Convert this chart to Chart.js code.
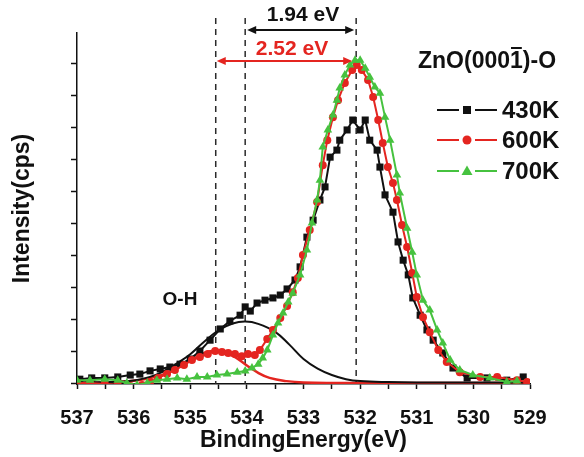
<!DOCTYPE html>
<html>
<head>
<meta charset="utf-8">
<script src="https://cdn.jsdelivr.net/npm/chart.js@4"></script>
<style>
html,body{margin:0;padding:0;background:#fff;}
</style>
</head>
<body>
<canvas id="xps" width="584" height="457"></canvas>
<script>
// binding energy (eV) / intensity (a.u., 1 unit = 1 y tick)
const e430 = [536.95,536.74,536.51,536.28,536.06,535.89,535.71,535.53,535.36,535.18,535.00,534.83,534.65,534.47,534.30,534.12,534.03,533.94,533.82,533.68,533.54,533.41,533.29,533.15,533.06,532.94,532.83,532.71,532.62,532.53,532.41,532.36,532.23,532.13,532.00,531.91,531.83,531.70,531.65,531.56,531.42,531.33,531.24,531.15,531.07,530.94,530.82,530.71,530.54,530.36,530.11,529.76,529.41,529.12];
const i430 = [0.12,0.16,0.16,0.19,0.25,0.28,0.38,0.44,0.50,0.59,0.75,1.00,1.34,1.69,1.94,2.12,2.38,2.25,2.50,2.59,2.66,2.75,2.94,3.22,3.63,4.56,5.09,5.72,6.13,7.06,7.28,7.59,7.91,8.22,7.91,8.22,7.59,7.28,6.75,5.88,5.34,4.41,3.84,3.38,2.66,2.12,1.66,1.34,0.94,0.47,0.16,0.16,0.09,0.19];

const e600 = [537.00,536.77,536.51,536.28,536.06,535.85,535.71,535.57,535.41,535.27,535.11,534.97,534.83,534.69,534.56,534.44,534.33,534.21,534.09,533.98,533.86,533.77,533.64,533.54,533.41,533.29,533.19,533.10,533.01,532.89,532.76,532.66,532.58,532.48,532.39,532.27,532.14,532.06,531.97,531.86,531.77,531.68,531.60,531.51,531.42,531.35,531.26,531.17,531.08,531.00,530.89,530.77,530.62,530.47,530.24,529.88,529.58,529.23,529.05];
const i600 = [0.00,0.00,-0.03,-0.06,-0.09,-0.06,0.03,0.16,0.28,0.41,0.56,0.72,0.81,0.91,1.00,0.97,0.94,0.91,0.84,0.91,0.88,1.03,1.38,1.66,2.03,2.41,2.84,3.28,4.00,4.78,5.66,6.81,7.59,8.31,8.84,9.38,9.78,9.94,9.78,9.47,8.94,8.22,7.50,6.75,6.25,5.72,4.94,4.25,3.44,2.69,2.06,1.59,1.03,0.66,0.34,0.19,0.19,0.09,0.03];

const e700 = [537.00,536.77,536.51,536.28,536.12,535.94,535.76,535.59,535.41,535.23,535.06,534.88,534.70,534.53,534.35,534.17,534.03,533.91,533.80,533.72,533.64,533.54,533.45,533.36,533.27,533.19,533.06,532.94,532.85,532.76,532.71,532.66,532.57,532.48,532.41,532.36,532.27,532.18,532.09,532.00,531.91,531.83,531.74,531.65,531.56,531.47,531.35,531.30,531.17,531.08,531.00,530.89,530.77,530.64,530.54,530.41,530.24,530.01,529.71,529.41,529.23];
const i700 = [0.09,0.09,0.12,0.09,0.00,-0.06,0.00,0.09,0.12,0.16,0.12,0.19,0.19,0.25,0.28,0.34,0.38,0.47,0.59,0.78,1.03,1.50,1.88,2.19,2.53,2.81,3.38,4.16,5.00,5.72,6.34,7.38,7.91,8.38,8.84,9.22,9.63,9.94,10.09,10.09,9.84,9.56,9.25,9.06,8.31,7.59,6.50,5.94,4.84,4.09,3.38,2.59,2.28,1.66,1.25,0.72,0.41,0.25,0.16,0.03,0.06];

// fitted components
const eFitOH = [537.0,536.5,536.0,535.7,535.5,535.25,535.0,534.75,534.5,534.25,534.03,533.8,533.5,533.25,533.0,532.75,532.5,532.25,532.0,531.5,531.0,529.0];
const iFitOH = [0.02,0.03,0.08,0.20,0.34,0.60,0.90,1.30,1.65,1.86,1.92,1.85,1.60,1.20,0.75,0.45,0.25,0.12,0.06,0.03,0.02,0.02];
const eFitRed = [537.0,536.5,536.0,535.7,535.5,535.3,535.1,534.9,534.75,534.57,534.4,534.2,534.0,533.8,533.6,533.3,533.0,532.0,529.0];
const iFitRed = [0.00,0.02,0.07,0.16,0.25,0.40,0.60,0.80,0.94,1.02,0.97,0.80,0.55,0.32,0.16,0.06,0.02,0.00,0.00];

const dashAt = [534.55, 534.03, 532.07];
const yTicks = [0,1,2,3,4,5,6,7,8,9,10];

const RED = '#e42520';
const GREEN = '#46c23f';
const FONT = 'Liberation Sans, Arial, sans-serif';

const pts = (xs, ys) => xs.map((v, k) => ({x: v, y: ys[k]}));

function arrow(ctx, x1, x2, y, color){
  ctx.strokeStyle = color; ctx.fillStyle = color; ctx.lineWidth = 2;
  ctx.beginPath(); ctx.moveTo(x1 + 6, y); ctx.lineTo(x2 - 6, y); ctx.stroke();
  ctx.beginPath(); ctx.moveTo(x1, y); ctx.lineTo(x1 + 9, y - 4); ctx.lineTo(x1 + 9, y + 4); ctx.closePath(); ctx.fill();
  ctx.beginPath(); ctx.moveTo(x2, y); ctx.lineTo(x2 - 9, y - 4); ctx.lineTo(x2 - 9, y + 4); ctx.closePath(); ctx.fill();
}

function marker(ctx, kind, x, y, color){
  ctx.fillStyle = color;
  ctx.beginPath();
  if(kind === 'rect') ctx.rect(x - 4, y - 4, 8, 8);
  else if(kind === 'circle') ctx.arc(x, y, 4.5, 0, Math.PI * 2);
  else { ctx.moveTo(x, y - 5.5); ctx.lineTo(x + 5.5, y + 4); ctx.lineTo(x - 5.5, y + 4); ctx.closePath(); }
  ctx.fill();
}

const marks = {
  id: 'marks',
  beforeDatasetsDraw(chart){
    const {ctx, scales: {x, y}} = chart;
    ctx.save();
    ctx.strokeStyle = '#2a2a2a'; ctx.lineWidth = 1.5; ctx.setLineDash([6, 5]);
    dashAt.forEach(e => {
      const px = x.getPixelForValue(e);
      ctx.beginPath(); ctx.moveTo(px, 18); ctx.lineTo(px, y.bottom); ctx.stroke();
    });
    ctx.restore();
  },
  afterDraw(chart){
    const {ctx, scales: {x}} = chart;
    ctx.save();
    arrow(ctx, x.getPixelForValue(dashAt[1]) + 2, x.getPixelForValue(dashAt[2]) - 2, 30, '#111');
    arrow(ctx, x.getPixelForValue(dashAt[0]) + 1, x.getPixelForValue(dashAt[2]) - 4, 61, RED);

    ctx.textBaseline = 'middle';
    ctx.textAlign = 'center';
    ctx.font = 'bold 21px ' + FONT;
    ctx.fillStyle = '#111';
    ctx.fillText('1.94 eV', 303, 15);
    ctx.fillStyle = RED;
    ctx.fillText('2.52 eV', 292, 49);
    ctx.fillStyle = '#111';
    ctx.font = 'bold 19px ' + FONT;
    ctx.fillText('O-H', 180, 300);

    // legend
    ctx.textAlign = 'left';
    ctx.font = 'bold 23px ' + FONT;
    const head = 'ZnO(000', one = '1', tail = ')-O';
    let tx = 418;
    ctx.fillText(head, tx, 62);
    tx += ctx.measureText(head).width;
    const w1 = ctx.measureText(one).width;
    ctx.fillText(one, tx, 62);
    ctx.fillRect(tx + 1, 47, w1 - 2, 2);
    ctx.fillText(tail, tx + w1, 62);

    const rows = [['430K', '#111', 'rect', 110], ['600K', RED, 'circle', 140], ['700K', GREEN, 'triangle', 171]];
    ctx.font = 'bold 24px ' + FONT;
    rows.forEach(([label, color, kind, ry]) => {
      ctx.strokeStyle = color; ctx.lineWidth = 2;
      ctx.beginPath(); ctx.moveTo(437, ry); ctx.lineTo(459, ry); ctx.moveTo(475, ry); ctx.lineTo(497, ry); ctx.stroke();
      marker(ctx, kind, 467, ry, color);
      ctx.fillStyle = '#111';
      ctx.fillText(label, 502, ry + 1);
    });
    ctx.restore();
  }
};

new Chart(document.getElementById('xps'), {
  type: 'scatter',
  data: {
    datasets: [
      {label: '700K', data: pts(e700, i700), showLine: true, borderColor: GREEN, backgroundColor: GREEN, borderWidth: 2, pointStyle: 'triangle', pointRadius: 5, pointBorderWidth: 0, order: 0},
      {label: '600K', data: pts(e600, i600), showLine: true, borderColor: RED, backgroundColor: RED, borderWidth: 2, pointStyle: 'circle', pointRadius: 4, pointBorderWidth: 0, order: 1},
      {label: '430K', data: pts(e430, i430), showLine: true, borderColor: '#111', backgroundColor: '#111', borderWidth: 2, pointStyle: 'rect', pointRadius: 5, pointBorderWidth: 0, order: 2},
      {label: 'O-H fit', data: pts(eFitOH, iFitOH), showLine: true, borderColor: '#111', borderWidth: 2, pointRadius: 0, tension: 0.4, order: 3},
      {label: 'fit', data: pts(eFitRed, iFitRed), showLine: true, borderColor: RED, borderWidth: 2.5, pointRadius: 0, tension: 0.4, order: 4}
    ]
  },
  options: {
    responsive: false,
    animation: false,
    layout: {padding: {top: 33, right: 54, left: 0, bottom: 0}},
    plugins: {legend: {display: false}, tooltip: {enabled: false}},
    scales: {
      x: {
        type: 'linear', reverse: true, min: 529, max: 537,
        afterFit: s => { s.height = 73; },
        border: {color: '#111', width: 1.5},
        grid: {drawOnChartArea: false, tickLength: 5, tickColor: '#111', tickWidth: 1.5},
        ticks: {
          stepSize: 0.5, autoSkip: false, maxRotation: 0, color: '#111', padding: 17,
          font: {family: FONT, size: 20, weight: 'bold'},
          callback: v => Number.isInteger(v) ? v : ''
        },
        title: {display: true, text: 'BindingEnergy(eV)', color: '#111', padding: {top: 0, bottom: 3}, font: {family: FONT, size: 23, weight: 'bold'}}
      },
      y: {
        min: -0.03, max: 10.94,
        afterFit: s => { s.width = 77; },
        afterBuildTicks: s => { s.ticks = yTicks.map(v => ({value: v})); },
        border: {color: '#111', width: 1.5},
        grid: {drawOnChartArea: false, tickLength: 6, tickColor: '#111', tickWidth: 1.5},
        ticks: {display: false},
        title: {display: true, text: 'Intensity(cps)', color: '#111', padding: {top: 9, bottom: 0}, font: {family: FONT, size: 23, weight: 'bold'}}
      }
    }
  },
  plugins: [marks]
});
</script>
</body>
</html>
